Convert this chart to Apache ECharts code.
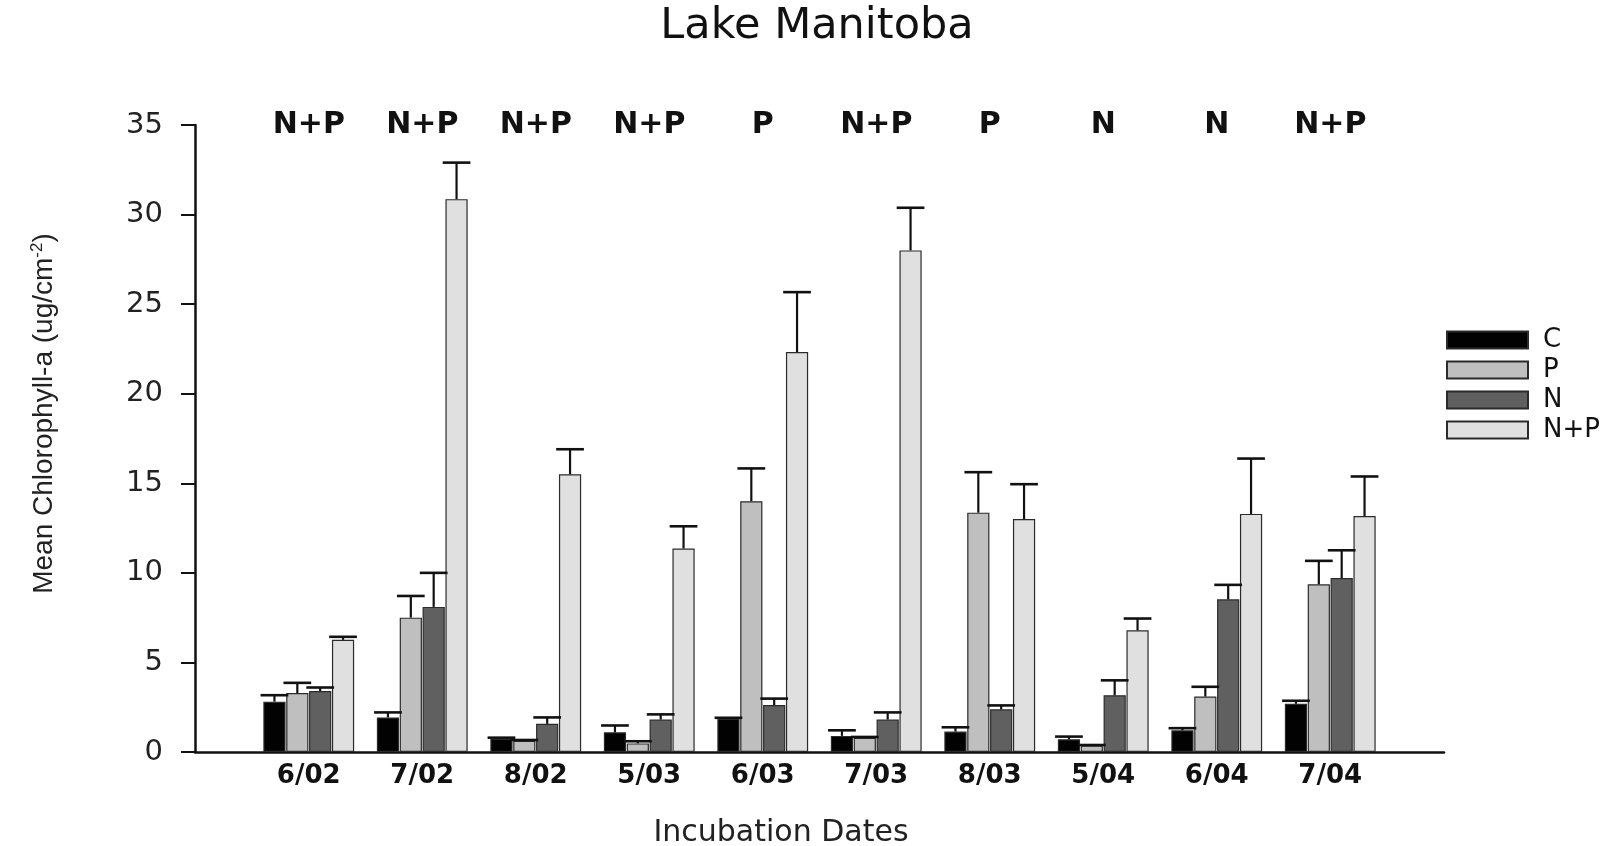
<!DOCTYPE html>
<html>
<head>
<meta charset="utf-8">
<title>Lake Manitoba</title>
<script src="https://cdn.jsdelivr.net/npm/echarts@6/dist/echarts.min.js"></script>
<style>
  html, body { margin: 0; padding: 0; background: #ffffff; }
  #chart { width: 1623px; height: 846px; }
</style>
</head>
<body>
<div id="chart"></div>
<script>
// Incubation dates (month/year) and the treatment that limited growth on each date
const dates = ['6/02', '7/02', '8/02', '5/03', '6/03', '7/03', '8/03', '5/04', '6/04', '7/04'];
const limiting = ['N+P', 'N+P', 'N+P', 'N+P', 'P', 'N+P', 'P', 'N', 'N', 'N+P'];

// Mean chlorophyll-a (ug/cm^-2) per treatment
const meanC  = [2.81, 1.93, 0.74, 1.10, 1.86, 0.90, 1.14, 0.71, 1.21, 2.69];
const meanP  = [3.29, 7.50, 0.62, 0.48, 14.00, 0.79, 13.36, 0.36, 3.10, 9.36];
const meanN  = [3.40, 8.10, 1.57, 1.81, 2.62, 1.81, 2.38, 3.17, 8.52, 9.71];
const meanNP = [6.26, 30.86, 15.50, 11.36, 22.33, 28.00, 13.00, 6.79, 13.29, 13.17];

// Standard error (upper whisker only)
const errC  = [0.36, 0.28, 0.06, 0.38, 0.05, 0.31, 0.24, 0.15, 0.12, 0.17];
const errP  = [0.57, 1.21, 0.05, 0.12, 1.83, 0.05, 2.26, 0.03, 0.54, 1.31];
const errN  = [0.20, 1.90, 0.36, 0.29, 0.36, 0.40, 0.22, 0.83, 0.81, 1.55];
const errNP = [0.17, 2.04, 1.40, 1.24, 3.34, 2.38, 1.95, 0.66, 3.09, 2.21];

const yTicks = { min: 0, max: 35, interval: 5 };

const treatments = [
  { name: 'C',   mean: meanC,  err: errC,  color: '#020202' },
  { name: 'P',   mean: meanP,  err: errP,  color: '#bfbfbf' },
  { name: 'N',   mean: meanN,  err: errN,  color: '#606060' },
  { name: 'N+P', mean: meanNP, err: errNP, color: '#e0e0e0' }
];

const CATEGORY_GAP = 0.20;
const BAR_GAP = 0.03;

const chart = echarts.init(document.getElementById('chart'), null, { renderer: 'canvas' });

const barSeries = treatments.map(t => ({
  name: t.name,
  type: 'bar',
  xAxisIndex: 0,
  yAxisIndex: 0,
  data: t.mean,
  barCategoryGap: (CATEGORY_GAP * 100) + '%',
  barGap: (BAR_GAP * 100) + '%',
  itemStyle: { color: t.color, borderColor: '#2b2b2b', borderWidth: 1.2 },
  emphasis: { disabled: true },
  z: 2
}));

// Upper error whiskers, placed over each bar of the grouped layout
const errorSeries = treatments.map((t, k) => ({
  name: t.name + ' SE',
  type: 'custom',
  xAxisIndex: 0,
  yAxisIndex: 0,
  data: t.mean.map((m, i) => [i, m, t.err[i]]),
  z: 3,
  silent: true,
  renderItem: function (params, api) {
    const idx = api.value(0);
    const mean = api.value(1);
    const err = api.value(2);
    const base = api.coord([idx, mean]);
    const top = api.coord([idx, mean + err]);
    const band = api.size([1, 0])[0];
    const groupW = band * (1 - CATEGORY_GAP);
    const n = treatments.length;
    const bw = groupW / (n + (n - 1) * BAR_GAP);
    const x = base[0] - groupW / 2 + k * bw * (1 + BAR_GAP) + bw / 2;
    const capW = bw * 1.25;
    return {
      type: 'group',
      children: [
        { type: 'line', shape: { x1: x, y1: base[1], x2: x, y2: top[1] },
          style: { stroke: '#111111', lineWidth: 2.2 } },
        { type: 'line', shape: { x1: x - capW / 2, y1: top[1], x2: x + capW / 2, y2: top[1] },
          style: { stroke: '#111111', lineWidth: 2.6 } }
      ]
    };
  }
}));

const option = {
  backgroundColor: '#ffffff',
  animation: false,
  title: {
    text: 'Lake Manitoba',
    left: 812,
    top: 0,
    textAlign: 'center',
    textStyle: { fontFamily: 'DejaVu Sans', fontSize: 43, fontWeight: 'normal', color: '#111111' }
  },
  legend: {
    orient: 'vertical',
    left: 1441,
    top: 322,
    icon: 'rect',
    itemWidth: 81,
    itemHeight: 17,
    itemGap: 4,
    selectedMode: false,
    data: treatments.map(t => t.name),
    textStyle: { fontFamily: 'DejaVu Sans', fontSize: 26, color: '#111111', padding: [0, 0, 0, 10] }
  },
  grid: [
    // bars
    { left: 252, right: 236, top: 125, bottom: 94, outerBoundsMode: 'none' },
    // full-width frame carrying the drawn axes
    { left: 195, right: 179, top: 125, bottom: 94, outerBoundsMode: 'none' }
  ],
  xAxis: [
    {
      type: 'category',
      gridIndex: 0,
      data: dates,
      axisLine: { show: false },
      axisTick: { show: false },
      axisLabel: {
        margin: 11,
        fontFamily: 'DejaVu Sans',
        fontWeight: 'bold',
        fontSize: 26,
        color: '#111111'
      },
      name: 'Incubation Dates',
      nameLocation: 'middle',
      nameGap: 66,
      nameTextStyle: {
        fontFamily: 'DejaVu Sans',
        fontSize: 30,
        color: '#222222',
        padding: [0, 77, 0, 0]
      }
    },
    {
      type: 'category',
      gridIndex: 0,
      position: 'top',
      data: dates,
      axisLine: { show: false },
      axisTick: { show: false },
      axisLabel: {
        margin: 0,
        verticalAlign: 'middle',
        fontFamily: 'DejaVu Sans',
        fontWeight: 'bold',
        fontSize: 30,
        color: '#111111',
        formatter: (value, index) => limiting[index]
      }
    },
    {
      type: 'value',
      gridIndex: 1,
      min: 0,
      max: 1,
      axisLine: { show: true, onZero: false, lineStyle: { color: '#111111', width: 2.5 } },
      axisTick: { show: false },
      axisLabel: { show: false },
      splitLine: { show: false }
    }
  ],
  yAxis: [
    {
      type: 'value',
      gridIndex: 0,
      min: yTicks.min,
      max: yTicks.max,
      interval: yTicks.interval,
      show: false,
      splitLine: { show: false }
    },
    {
      type: 'value',
      gridIndex: 1,
      min: yTicks.min,
      max: yTicks.max,
      interval: yTicks.interval,
      axisLine: { show: true, lineStyle: { color: '#111111', width: 2.5 } },
      axisTick: { show: true, inside: false, length: 14, lineStyle: { color: '#111111', width: 2 } },
      axisLabel: {
        margin: 32,
        fontFamily: 'DejaVu Sans',
        fontSize: 29,
        color: '#222222'
      },
      splitLine: { show: false },
      name: '{a|Mean Chlorophyll-a (ug/cm}{s|-2}{a|)}',
      nameLocation: 'middle',
      nameGap: 135,
      nameRotate: 90,
      nameTextStyle: {
        padding: [0, 0, 0, 50],
        rich: {
          a: { fontFamily: 'Liberation Sans', fontSize: 28, color: '#222222' },
          s: { fontFamily: 'Liberation Sans', fontSize: 17, color: '#222222', verticalAlign: 'top', padding: [0, 0, 14, 0] }
        }
      }
    }
  ],
  series: barSeries.concat(errorSeries)
};

chart.setOption(option);
</script>
</body>
</html>
